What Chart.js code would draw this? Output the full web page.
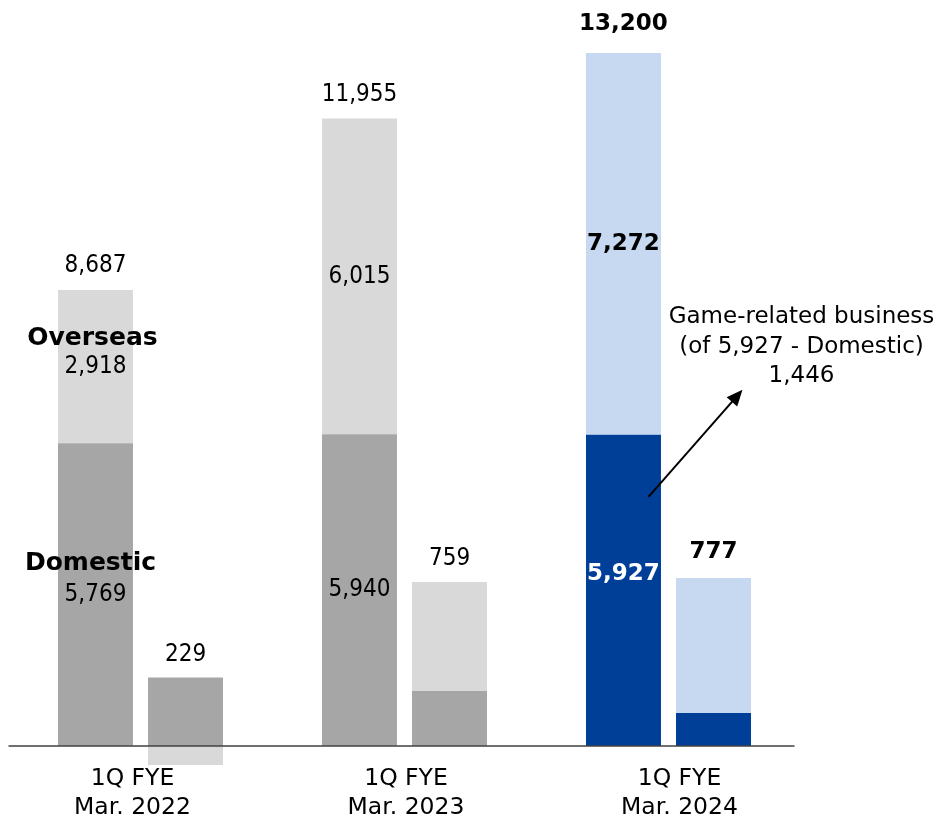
<!DOCTYPE html>
<html lang="en"><head><meta charset="UTF-8">
<title>1Q net sales and operating income</title>
<script src="https://cdn.jsdelivr.net/npm/chart.js@4.4.1/dist/chart.umd.min.js"></script>
<style>
*{margin:0;padding:0;box-sizing:border-box;}
body{background:#fff;width:940px;height:823px;overflow:hidden;}
.wrap{position:relative;width:940px;height:823px;}
</style></head>
<body><div class="wrap"><canvas id="c" width="940" height="823"></canvas></div>
<script>
// data
const categories = [['1Q FYE', 'Mar. 2022'], ['1Q FYE', 'Mar. 2023'], ['1Q FYE', 'Mar. 2024']];
const salesDomestic  = [5769, 5940, 5927];
const salesOverseas  = [2918, 6015, 7272];
const salesTotal     = [8687, 11955, 13200];
const profitDomestic = [317, 255, 153];
const profitOverseas = [-88, 504, 624];
const profitTotal    = [229, 759, 777];
const gameRelated    = 1446;

const domesticColors = ['#A6A6A6', '#A6A6A6', '#003F98'];
const overseasColors = ['#D9D9D9', '#D9D9D9', '#C6D9F1'];
const FONT = '"DejaVu Sans", Verdana, sans-serif';

// both value axes share the same zero line
const REV_MAX = 14020, REV_MIN = -381;
const OP_MAX = 3406, OP_MIN = OP_MAX * REV_MIN / REV_MAX;

const fmt = v => v.toLocaleString('en-US');

const labelsPlugin = {
  id: 'labels',
  afterDatasetsDraw(chart) {
    const { ctx, chartArea: a, scales: { x, y } } = chart;
    const zero = y.getPixelForValue(0);
    const m = i => chart.getDatasetMeta(i).data;
    // o: size, bold, color, sx (horizontal squeeze)
    const txt = (s, px, py, o = {}) => {
      const sx = o.sx || 1;
      ctx.save();
      ctx.font = (o.bold ? 'bold ' : '') + (o.size || 23) + 'px ' + FONT;
      ctx.fillStyle = o.color || '#000';
      ctx.translate(px, py); ctx.scale(sx, 1);
      ctx.fillText(s, 0, 0);
      ctx.restore();
    };
    const num = (v, px, py, bold, color) => bold
      ? txt(fmt(v), px, py, { bold: true, size: 23, color })
      : txt(fmt(v), px, py, { size: 24, sx: 0.9, color });

    ctx.save();
    // baseline
    ctx.strokeStyle = '#404040'; ctx.lineWidth = 1.5;
    ctx.beginPath(); ctx.moveTo(a.left, zero); ctx.lineTo(a.right - 6, zero); ctx.stroke();

    ctx.textAlign = 'center'; ctx.textBaseline = 'middle';
    categories.forEach((c, i) => {
      const last = i === categories.length - 1;
      const sd = m(0)[i], so = m(1)[i], pd = m(2)[i], po = m(3)[i];
      num(salesDomestic[i], sd.x, (sd.y + sd.base) / 2 - (last ? 16 : 0), last, last ? '#fff' : '#000');
      num(salesOverseas[i], so.x, (so.y + so.base) / 2, last);
      num(salesTotal[i], so.x, so.y - (last ? 29 : 24), last);
      const top = Math.min(pd.y, po.y, zero);
      num(profitTotal[i], pd.x, top - (last ? 26 : 23), last);
      if (i === 0) {
        txt('Overseas', so.x - 3, (so.y + so.base) / 2 - 28, { bold: true, size: 25 });
        txt('Domestic', sd.x - 5, (sd.y + sd.base) / 2 - 31, { bold: true, size: 25 });
      }
      const cx = x.getPixelForValue(i) + (i - 1) * 9.5 + 1.5;
      txt(c[0], cx, zero + 33, { size: 23.5 });
      txt(c[1], cx, zero + 62, { size: 23.5 });
    });

    // game-related annotation with arrow
    const g = m(0)[2];
    const x0 = g.x + 25, y0 = g.y + 62, x1 = x0 + 94, y1 = y0 - 107;
    ctx.strokeStyle = '#000'; ctx.lineWidth = 2;
    const ang = Math.atan2(y1 - y0, x1 - x0);
    ctx.beginPath(); ctx.moveTo(x0, y0);
    ctx.lineTo(x1 - 12 * Math.cos(ang), y1 - 12 * Math.sin(ang)); ctx.stroke();
    ctx.fillStyle = '#000';
    ctx.beginPath();
    ctx.moveTo(x1, y1);
    ctx.lineTo(x1 - 16 * Math.cos(ang) + 7 * Math.sin(ang), y1 - 16 * Math.sin(ang) - 7 * Math.cos(ang));
    ctx.lineTo(x1 - 16 * Math.cos(ang) - 7 * Math.sin(ang), y1 - 16 * Math.sin(ang) + 7 * Math.cos(ang));
    ctx.closePath(); ctx.fill();
    const tx = a.right + 1;
    txt('Game-related business', tx, 317);
    txt('(of 5,927 - Domestic)', tx, 347);
    txt(fmt(gameRelated), tx, 376);
    ctx.restore();
  }
};

new Chart(document.getElementById('c'), {
  type: 'bar',
  data: {
    labels: categories,
    datasets: [
      { data: salesDomestic,  backgroundColor: domesticColors, stack: 'sales',  yAxisID: 'y' },
      { data: salesOverseas,  backgroundColor: overseasColors, stack: 'sales',  yAxisID: 'y' },
      { data: profitDomestic, backgroundColor: domesticColors, stack: 'profit', yAxisID: 'y1' },
      { data: profitOverseas, backgroundColor: overseasColors, stack: 'profit', yAxisID: 'y1' }
    ]
  },
  options: {
    responsive: false,
    animation: false,
    devicePixelRatio: 1,
    layout: { padding: { left: 8.5, right: 139.5, top: 10, bottom: 57 } },
    datasets: { bar: { categoryPercentage: 0.682, barPercentage: 0.833, borderWidth: 0 } },
    plugins: { legend: { display: false }, tooltip: { enabled: false } },
    scales: {
      x:  { display: false, stacked: true },
      y:  { display: false, stacked: true, min: REV_MIN, max: REV_MAX },
      y1: { display: false, stacked: true, min: OP_MIN, max: OP_MAX }
    }
  },
  plugins: [labelsPlugin]
});
</script>
</body></html>
